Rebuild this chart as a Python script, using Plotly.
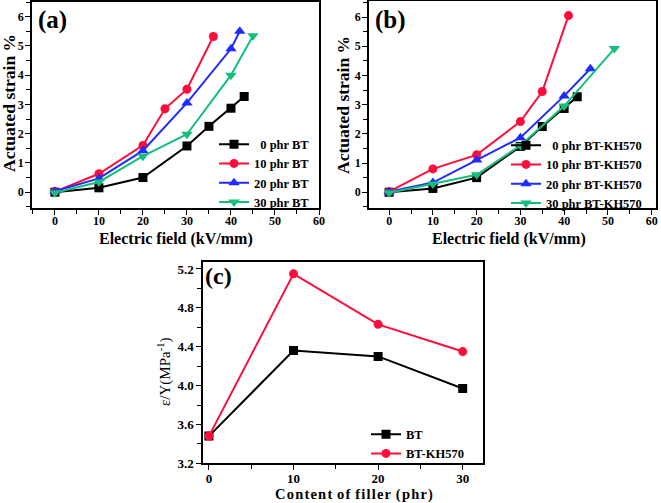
import plotly.graph_objects as go

# ---- Panel (a): BT ----
a_x0 = [0, 10, 20, 30, 35, 40, 43]
a_y0 = [0.0, 0.15, 0.5, 1.58, 2.25, 2.87, 3.27]
a_x10 = [0, 10, 20, 25, 30, 36]
a_y10 = [0.02, 0.63, 1.6, 2.85, 3.52, 5.32]
a_x20 = [0, 10, 20, 30, 40, 42]
a_y20 = [0.03, 0.47, 1.42, 3.05, 4.9, 5.5]
a_x30 = [0, 10, 20, 30, 40, 45]
a_y30 = [-0.02, 0.35, 1.23, 1.98, 4.0, 5.35]
a_names = ["\u20070 phr BT", "10 phr BT", "20 phr BT", "30 phr BT"]

# ---- Panel (b): BT-KH570 ----
b_x0 = [0, 10, 20, 30, 35, 40, 43]
b_y0 = [0.0, 0.13, 0.5, 1.57, 2.25, 2.87, 3.27]
b_x10 = [0, 10, 20, 30, 35, 41]
b_y10 = [0.02, 0.8, 1.28, 2.42, 3.45, 6.05]
b_x20 = [0, 10, 20, 30, 40, 46]
b_y20 = [0.02, 0.33, 1.1, 1.87, 3.3, 4.23]
b_x30 = [0, 10, 20, 30, 40, 51.5]
b_y30 = [-0.02, 0.28, 0.6, 1.6, 2.95, 4.92]
b_names = ["\u20070 phr BT-KH570", "10 phr BT-KH570", "20 phr BT-KH570", "30 phr BT-KH570"]

# ---- Panel (c) ----
c_x = [0, 10, 20, 30]
c_bt = [3.48, 4.36, 4.3, 3.97]
c_kh = [3.48, 5.15, 4.63, 4.35]
c_names = ["BT", "BT-KH570"]

colors = ["#000000", "#FF0D3A", "#1F2BFF", "#14BF7C"]
symbols = ["square", "circle", "triangle-up", "triangle-down"]
FONT = "Liberation Serif"
W, H = 661, 503

fig = go.Figure()

def add(x, y, name, i, xa, ya, legend):
    fig.add_trace(go.Scatter(
        x=x, y=y, name=name, mode="lines+markers",
        line=dict(color=colors[i], width=2),
        marker=dict(symbol=symbols[i], size=10 if i >= 2 else 9, color=colors[i]),
        xaxis=xa, yaxis=ya, legend=legend))

for i, (x, y) in enumerate([(a_x0, a_y0), (a_x10, a_y10), (a_x20, a_y20), (a_x30, a_y30)]):
    add(x, y, a_names[i], i, "x", "y", "legend")
for i, (x, y) in enumerate([(b_x0, b_y0), (b_x10, b_y10), (b_x20, b_y20), (b_x30, b_y30)]):
    add(x, y, b_names[i], i, "x2", "y2", "legend2")
add(c_x, c_bt, c_names[0], 0, "x3", "y3", "legend3")
add(c_x, c_kh, c_names[1], 1, "x3", "y3", "legend3")


def axis(domain, rng, dtick, anchor, tick0=0, size=12, fmt=None, standoff=0):
    d = dict(domain=domain, range=rng, anchor=anchor, dtick=dtick, tick0=tick0,
             showline=True, linecolor="black", linewidth=1.5, mirror=True,
             ticks="outside", ticklen=5, tickwidth=1, tickcolor="black",
             minor=dict(ticks="outside", ticklen=4, dtick=dtick / 2, tickcolor="black"),
             showgrid=False, zeroline=False, automargin=False,
             ticklabelstandoff=standoff,
             tickfont=dict(family=FONT, size=size, color="black", weight="bold"))
    if fmt:
        d["tickformat"] = fmt
    return d


legfont = dict(family=FONT, size=12.5, color="black", weight="bold")


def px(x, y):
    return x / W, 1 - y / H


def label(text, x, y, size, angle=0, bold=True):
    xx, yy = px(x, y)
    return dict(text=text, x=xx, y=yy, xref="paper", yref="paper",
                xanchor="center", yanchor="middle", showarrow=False, textangle=angle,
                font=dict(family=FONT, size=size, color="black",
                          weight="bold" if bold else "normal"))


hs = "\u200a"
content_title = hs.join(list("Content")) + hs + " " + hs.join(list("of")) + hs + " " + \
    hs.join(list("filler")) + hs + " " + hs.join(list("(phr)"))

fig.update_layout(
    width=W, height=H,
    margin=dict(l=0, r=0, t=0, b=0),
    paper_bgcolor="white", plot_bgcolor="white",
    font=dict(family=FONT, color="black"),
    showlegend=True,
    xaxis=axis([32 / W, 319 / W], [-5.2, 60], 10, "y", standoff=-4),
    yaxis=axis([1 - 208 / H, 1 - 2 / H], [-0.54, 6.5], 1, "x", standoff=-1),
    xaxis2=axis([369 / W, 656 / W], [-4.6, 61], 10, "y2", standoff=-4),
    yaxis2=axis([1 - 208 / H, 1 - 1 / H], [-0.54, 6.55], 1, "x2", standoff=-1),
    xaxis3=axis([203 / W, 483 / W], [-0.7, 32.4], 10, "y3", size=13, standoff=-3),
    yaxis3=axis([1 - 463.3 / H, 1 - 261.7 / H], [3.2, 5.275], 0.4, "x3", tick0=3.2,
                size=13, fmt=".1f", standoff=0),
    legend=dict(x=214 / W, y=1 - 173 / H, xanchor="left", yanchor="middle",
                bgcolor="rgba(0,0,0,0)", font=legfont, tracegroupgap=0, itemwidth=30),
    legend2=dict(x=506 / W, y=1 - 174 / H, xanchor="left", yanchor="middle",
                 bgcolor="rgba(0,0,0,0)", font=legfont, tracegroupgap=0, itemwidth=30),
    legend3=dict(x=366 / W, y=1 - 444 / H, xanchor="left", yanchor="middle",
                 bgcolor="rgba(0,0,0,0)", font=legfont, tracegroupgap=0, itemwidth=30),
    annotations=[
        label("(a)", 52, 20, 25),
        label("(b)", 390, 20, 25),
        label("(c)", 218, 276, 24),
        label("Electric field (kV/mm)", 176, 239, 16),
        label("Electric field (kV/mm)", 509, 239, 16),
        label("Actuated strain %", 9, 103, 17.5, angle=-90),
        label("Actuated strain %", 343, 105, 17.5, angle=-90),
        label(content_title, 354, 494, 14.5),
        label("ε/Y(MPa<sup>-1</sup>)", 164, 372, 15, angle=-90, bold=False),
    ],
)

fig.write_html("out.html", config={"displayModeBar": False},
               post_script="document.body.style.margin='0';document.body.style.padding='0';")
